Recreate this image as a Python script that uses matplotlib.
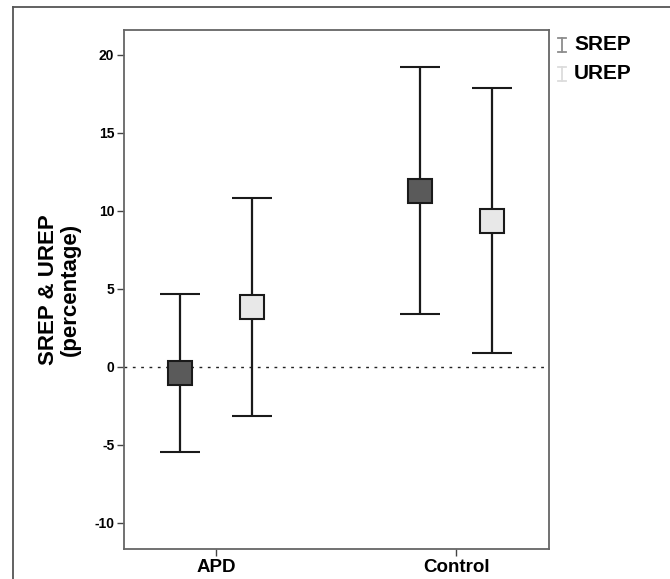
import matplotlib
matplotlib.use("Agg")
import matplotlib.pyplot as plt
from matplotlib.lines import Line2D
import numpy as np

plt.rcParams["font.family"] = ["Liberation Sans", "DejaVu Sans"]

# data (mean and 95% CI bounds)
groups = ["APD", "Control"]
series = ["SREP", "UREP"]
srep_mean = [-0.38, 11.3]
srep_low = [-5.45, 3.4]
srep_high = [4.7, 19.2]
urep_mean = [3.85, 9.35]
urep_low = [-3.14, 0.9]
urep_high = [10.8, 17.9]
yticks = [-10, -5, 0, 5, 10, 15, 20]

fill_colors = {"SREP": "#5a5a5a", "UREP": "#e8e8e8"}
legend_colors = {"SREP": "#8c8c8c", "UREP": "#dcdcdc"}

W, H = 670, 579
fig = plt.figure(figsize=(W / 100, H / 100), dpi=100)
ax = fig.add_axes([124 / W, 1 - 549 / H, (549 - 124) / W, (549 - 30) / H])

x = np.arange(len(groups))
offset = 0.15
for i, (name, mean, lo, hi) in enumerate([
    ("SREP", srep_mean, srep_low, srep_high),
    ("UREP", urep_mean, urep_low, urep_high),
]):
    xs = x + (-offset if i == 0 else offset)
    mean = np.array(mean)
    yerr = [mean - np.array(lo), np.array(hi) - mean]
    ax.errorbar(xs, mean, yerr=yerr, fmt="s", color="#1a1a1a",
                ecolor="#1a1a1a", elinewidth=1.6, capsize=14.5, capthick=1.6,
                markersize=17, markerfacecolor=fill_colors[name],
                markeredgecolor="#1a1a1a", markeredgewidth=1.5, zorder=3)

ax.axhline(0, color="#222222", lw=1.0, ls=(0, (2, 4)), zorder=1)

ax.set_xlim(-0.383, 1.387)
ax.set_ylim(-11.67, 21.6)
ax.set_xticks(x)
ax.set_xticklabels(groups, fontsize=13.5, fontweight="bold")
ax.set_yticks(yticks)
ax.set_yticklabels([str(t) for t in yticks], fontsize=10, fontweight="bold")
ax.tick_params(axis="both", direction="out", length=5, width=1, color="#444444")
ax.tick_params(axis="x", pad=2.5)
ax.tick_params(axis="y", pad=2)
for s in ax.spines.values():
    s.set_color("#666666")
    s.set_linewidth(1.3)

ax.set_ylabel("SREP & UREP\n(percentage)", fontsize=16, fontweight="bold",
              linespacing=1.0, labelpad=10)

# outer frame (only top and left edges visible in the crop)
fig.add_artist(Line2D([13 / W, 1.0], [1 - 7 / H, 1 - 7 / H],
                      transform=fig.transFigure, color="#555555", lw=1.3))
fig.add_artist(Line2D([13 / W, 13 / W], [0.0, 1 - 7 / H],
                      transform=fig.transFigure, color="#555555", lw=1.3))

# legend drawn by hand, SPSS style
for name, yc in [("SREP", 45), ("UREP", 74)]:
    c = legend_colors[name]
    xc = 562
    for seg in ([(xc, yc - 7), (xc, yc + 7)],
                [(xc - 4, yc - 7), (xc + 4, yc - 7)],
                [(xc - 4, yc + 7), (xc + 4, yc + 7)]):
        fig.add_artist(Line2D([p[0] / W for p in seg], [1 - p[1] / H for p in seg],
                              transform=fig.transFigure, color=c, lw=1.3))
    fig.text(574 / W, 1 - yc / H, name, fontsize=15, fontweight="bold",
             va="center", ha="left")

fig.savefig("out.png", dpi=100)
